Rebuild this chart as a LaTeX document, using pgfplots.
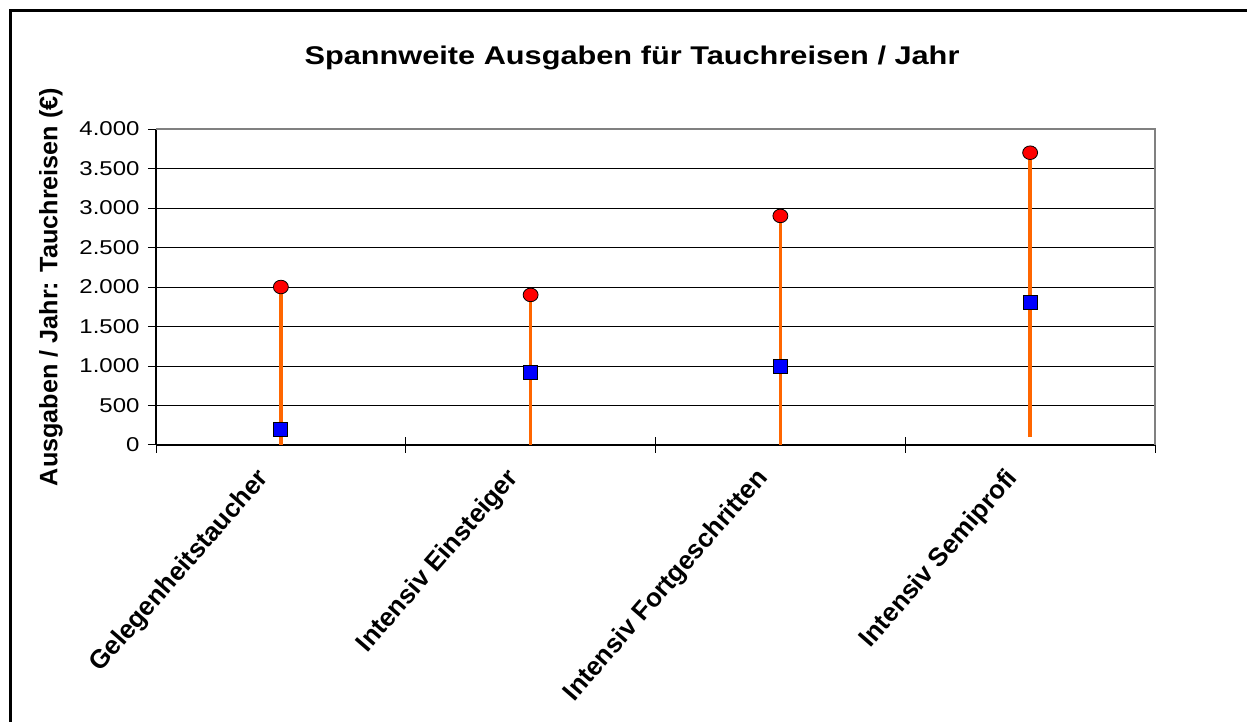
\documentclass[border=0pt]{standalone}
\usepackage{pgfplots}
\pgfplotsset{compat=1.18}
\usepackage{fontspec}
\setmainfont{Liberation Sans}
\definecolor{rangeorange}{RGB}{255,102,0}
\definecolor{gridgray}{RGB}{128,128,128}
\begin{document}
\begin{tikzpicture}[x=0.5pt,y=0.5pt]
\useasboundingbox (0,0) rectangle (1247,722);
\fill[white] (0,0) rectangle (1247,722);
\draw[line width=1.5pt] (10.5,0) -- (10.5,711) -- (1247,711);
\node[font=\bfseries\fontsize{12.8}{15}\selectfont, xscale=1.2] at (632,664) {Spannweite Ausgaben für Tauchreisen / Jahr};
\node[font=\bfseries\fontsize{12.6}{14}\selectfont, rotate=90] at (51,435) {Ausgaben / Jahr: Tauchreisen (€)};
\begin{axis}[
  at={(78pt,138.5pt)}, anchor=south west,
  scale only axis, width=499.5pt, height=158pt,
  xmin=-0.5, xmax=3.5, ymin=0, ymax=4000,
  ytick={0,500,...,4000},
  xtick={-0.5,0.5,1.5,2.5,3.5}, xticklabels={},
  extra x ticks={0,1,2,3},
  extra x tick labels={Gelegenheitstaucher,Intensiv Einsteiger,Intensiv Fortgeschritten,Intensiv Semiprofi},
  extra x tick style={major tick length=0pt, xticklabel style={xshift=-6pt, yshift=-12pt, rotate=49, anchor=east, font=\bfseries\fontsize{13}{15}\selectfont}},
  tick align=center, major tick length=8pt,
  tick style={black, line width=0.5pt},
  ymajorgrids, grid style={black, line width=0.5pt},
  axis x line*=bottom, axis y line*=left,
  axis line style={black, line width=0.6pt},
  /pgf/number format/.cd, 1000 sep={.}, assume math mode=true,
  /pgfplots/.cd,
  yticklabel style={font=\fontsize{10}{12}\selectfont, xscale=1.2},
  clip=false,
]
\draw[gridgray, line width=0.8pt] (axis cs:-0.5,4000) -- (axis cs:3.5,4000) -- (axis cs:3.5,0);
% range lines
\addplot[rangeorange, line width=1.8pt, forget plot] coordinates {(0,0) (0,2000)};
\addplot[rangeorange, line width=1.8pt, forget plot] coordinates {(1,0) (1,1900)};
\addplot[rangeorange, line width=1.8pt, forget plot] coordinates {(2,0) (2,2900)};
\addplot[rangeorange, line width=1.8pt, forget plot] coordinates {(3,100) (3,3700)};
% mean
\addplot[only marks, mark=square*, mark size=3.5pt, mark options={fill=blue, draw=black, line width=0.4pt}] coordinates {(0,200) (1,920) (2,1000) (3,1800)};
% max
\addplot[only marks, mark=*, mark size=3.4pt, mark options={fill=red, draw=black, line width=0.4pt, xscale=1.1}] coordinates {(0,2000) (1,1900) (2,2900) (3,3700)};
\end{axis}
\end{tikzpicture}
\end{document}
